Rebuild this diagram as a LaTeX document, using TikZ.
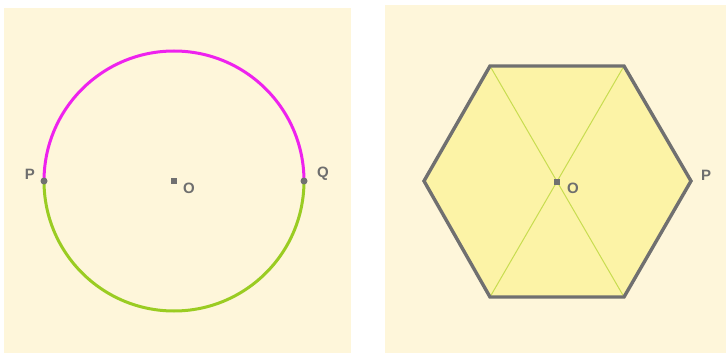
\documentclass[tikz,border=0pt]{standalone}
\usepackage{fontspec}
\setmainfont{Liberation Sans}
\definecolor{bgcream}{HTML}{FEF6DA}
\definecolor{hexfill}{HTML}{FCF3A6}
\definecolor{edgegray}{HTML}{707070}
\definecolor{arcmag}{HTML}{EE22EE}
\definecolor{arcgreen}{HTML}{9ACC22}
\definecolor{diaggreen}{HTML}{C8DC50}
\definecolor{lblgray}{HTML}{6E6E6E}
\tikzset{
  dotpt/.style={circle,fill=edgegray,inner sep=0pt,minimum size=7pt},
  lbl/.style={text=lblgray,font=\fontsize{15}{15}\selectfont\bfseries,inner sep=0pt},
}
\begin{document}
\begin{tikzpicture}[x=1pt,y=-1pt]
\useasboundingbox (0,0) rectangle (726,353);
\fill[white] (0,0) rectangle (726,353);
% panels
\fill[bgcream] (4,8) rectangle (351,353);
\fill[bgcream] (385,5) rectangle (726,353);
% circle
\coordinate (O1) at (174,181);
\coordinate (P1) at (44,181);
\coordinate (Q1) at (304,181);
\draw[arcgreen,line width=3pt] (P1) arc[start angle=180,end angle=0,radius=130];
\draw[arcmag,line width=3pt] (P1) arc[start angle=-180,end angle=0,radius=130];
\node[dotpt] (p1) at (P1) {};
\node[dotpt] (q1) at (Q1) {};
\node[rectangle,fill=edgegray,inner sep=0pt,minimum size=6pt] (o1) at (O1) {};
\node[lbl] (lp1) at (30,174) {P};
\node[lbl] (lq1) at (323,174) {Q};
\node[lbl] (lo1) at (189,188) {O};
% hexagon
\coordinate (H0) at (691,181);
\coordinate (H1) at (624,66);
\coordinate (H2) at (490,66);
\coordinate (H3) at (424,181);
\coordinate (H4) at (490,297);
\coordinate (H5) at (624,297);
\coordinate (O2) at (557,181.5);
\fill[hexfill] (H0)--(H1)--(H2)--(H3)--(H4)--(H5)--cycle;
\draw[diaggreen,line width=1pt] (H2)--(H5);
\draw[diaggreen,line width=1pt] (H1)--(H4);
\draw[edgegray,line width=3.4pt,line join=miter] (H0)--(H1)--(H2)--(H3)--(H4)--(H5)--cycle;
\node[rectangle,fill=edgegray,inner sep=0pt,minimum size=6pt] (o2) at (O2) {};
\node[lbl] (lo2) at (573,188) {O};
\node[lbl] (lp2) at (706,175) {P};
\end{tikzpicture}
\end{document}
